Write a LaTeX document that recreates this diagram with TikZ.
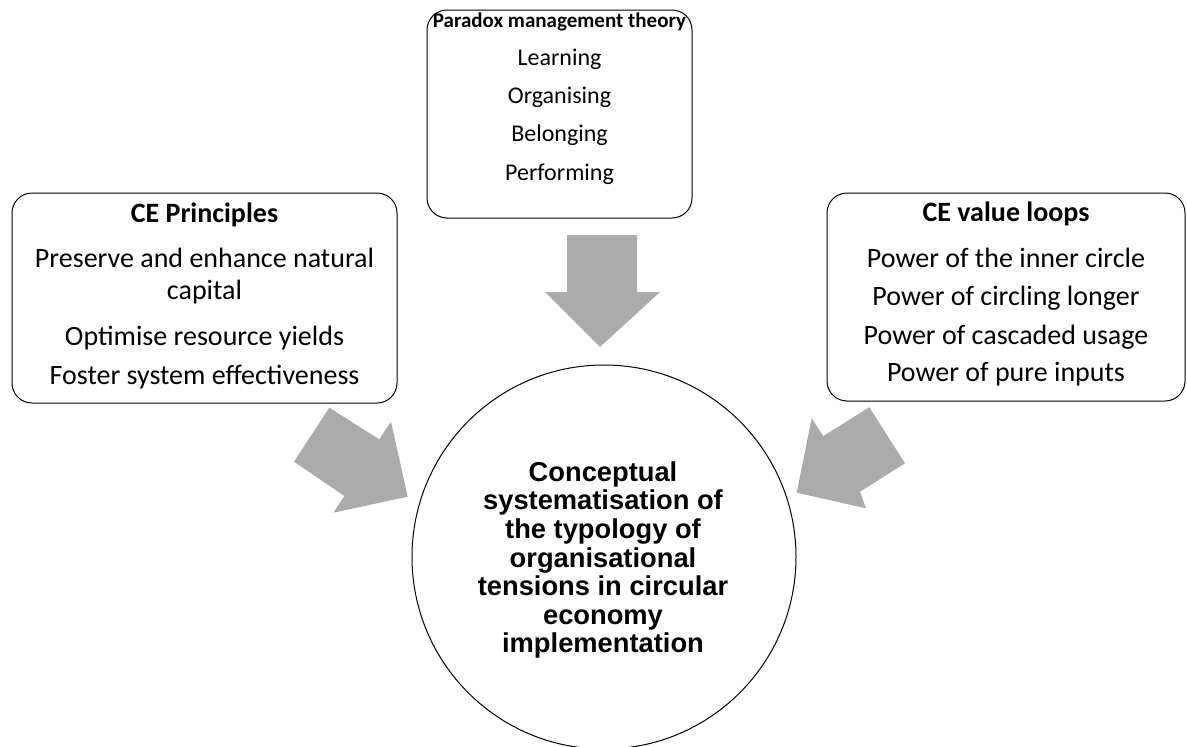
\documentclass[tikz,border=0pt]{standalone}
\usepackage{fontspec}
\setmainfont{Carlito}
\newfontfamily\circfont{Liberation Sans}
\begin{document}
\begin{tikzpicture}[x=1pt,y=-1pt,
  box/.style={draw=black, line width=1pt, rounded corners=20pt},
  bigline/.style={anchor=base, inner sep=0pt, font=\fontsize{28}{32}\selectfont},
  midline/.style={anchor=base, inner sep=0pt, font=\fontsize{24}{28}\selectfont},
  toptitle/.style={anchor=base, inner sep=0pt, font=\bfseries\fontsize{21}{25}\selectfont},
  blockarrow/.style={fill=black!33, draw=none}]
\useasboundingbox (0,0) rectangle (1187,747);
% box corners
\coordinate (cepNW) at (12,193);   \coordinate (cepSE) at (397,403);
\coordinate (pmtNW) at (427,10);   \coordinate (pmtSE) at (692,218);
\coordinate (cevNW) at (827,193);  \coordinate (cevSE) at (1185,401);
\draw[box] (cepNW) rectangle (cepSE);
\draw[box] (pmtNW) rectangle (pmtSE);
\draw[box] (cevNW) rectangle (cevSE);
% circle
\node[draw=black, line width=1pt, circle, minimum size=384pt, inner sep=0pt] (core) at (604,557) {};
% CE principles
\node[bigline] (cep0) at (204.5,222) {\textbf{CE Principles}};
\node[bigline] (cep1) at (204.5,267) {Preserve and enhance natural};
\node[bigline] (cep2) at (204.5,299) {capital};
\node[bigline] (cep3) at (204.5,345) {Optimise resource yields};
\node[bigline] (cep4) at (204.5,384) {Foster system effectiveness};
% Paradox management theory
\node[toptitle] (pmt0) at (559.5,27) {Paradox management theory};
\node[midline] (pmt1) at (559.5,65) {Learning};
\node[midline] (pmt2) at (559.5,103) {Organising};
\node[midline] (pmt3) at (559.5,141) {Belonging};
\node[midline] (pmt4) at (559.5,180) {Performing};
% CE value loops
\node[bigline] (cev0) at (1006,221) {\textbf{CE value loops}};
\node[bigline] (cev1) at (1006,267) {Power of the inner circle};
\node[bigline] (cev2) at (1006,305) {Power of circling longer};
\node[bigline] (cev3) at (1006,344) {Power of cascaded usage};
\node[bigline] (cev4) at (1006,381) {Power of pure inputs};
% centre text
\node[align=center, inner sep=0pt, font=\circfont\bfseries\fontsize{27.3}{28.6}\selectfont] (coret) at (603,560) {Conceptual\\systematisation of\\the typology of\\organisational\\tensions in circular\\economy\\implementation};
% block arrows
\fill[blockarrow] (567,235) -- (637,235) -- (637,292) -- (660,292) -- (600,347) -- (545,292) -- (567,292) -- cycle;
\fill[blockarrow] (329.3,407.7) -- (379.3,439.3) -- (391,421.7) -- (407.7,496.7) -- (333.3,512.7) -- (344.3,496) -- (294,461.7) -- cycle;
\fill[blockarrow] (869.3,407.3) -- (905,463.3) -- (860,491.7) -- (866,508.3) -- (796.7,492.7) -- (811.7,418.3) -- (823.3,436) -- cycle;
\end{tikzpicture}
\end{document}
